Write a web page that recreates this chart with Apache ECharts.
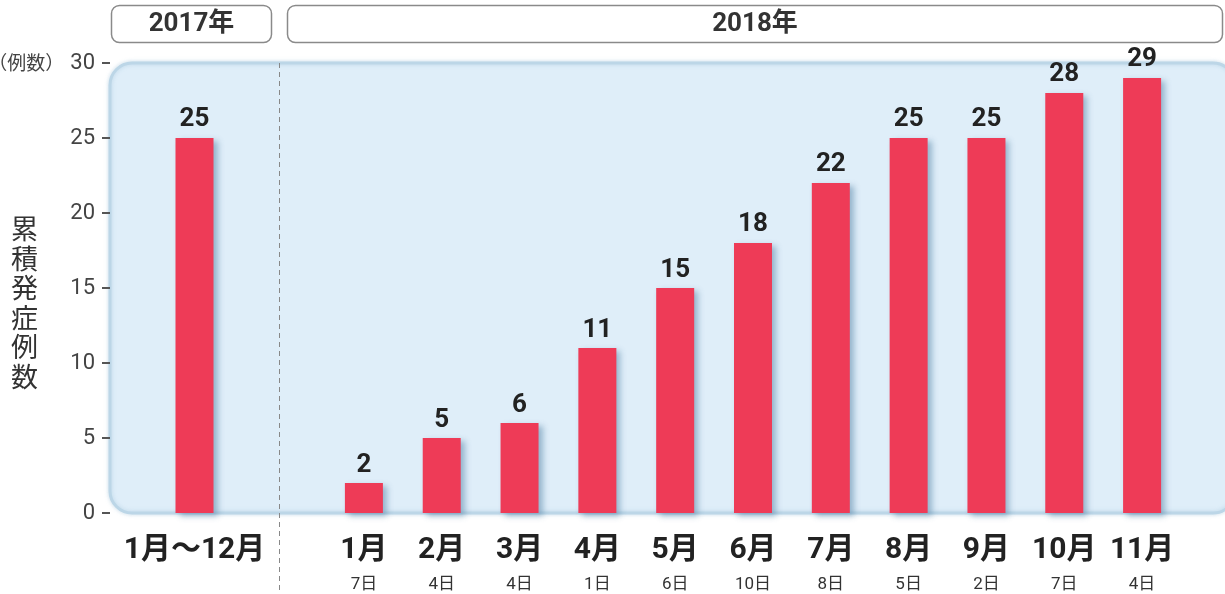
<!DOCTYPE html>
<html>
<head>
<meta charset="utf-8">
<script src="https://cdn.jsdelivr.net/npm/echarts@6/dist/echarts.min.js"></script>
<style>
  html, body { margin: 0; padding: 0; background: #fff; }
  #chart { width: 1225px; height: 594px; }
</style>
</head>
<body>
<div id="chart"></div>
<script>
// 2017年は通年、2018年は月別の累積発症例数
const cats2017 = ['1月〜12月'];
const vals2017 = [25];
const cats2018 = ['1月', '2月', '3月', '4月', '5月', '6月', '7月', '8月', '9月', '10月', '11月'];
const days2018 = ['7日', '4日', '4日', '1日', '6日', '10日', '8日', '5日', '2日', '7日', '4日'];
const vals2018 = [2, 5, 6, 11, 15, 18, 22, 25, 25, 28, 29];
const yTicks = { min: 0, max: 30, interval: 5 };
const yearLabels = ['2017年', '2018年'];

const FONT = 'Roboto, "Noto Sans CJK JP", sans-serif';
const BAR = '#ee3b57';

const barStyle = {
    color: BAR,
    shadowColor: 'rgba(60,110,150,0.45)',
    shadowBlur: 6,
    shadowOffsetX: 4,
    shadowOffsetY: 3
};
const valueLabel = {
    show: true,
    position: 'top',
    distance: 5,
    fontFamily: FONT,
    fontWeight: 'bold',
    fontSize: 26,
    color: '#222'
};
const catRich = {
    m: { fontFamily: FONT, fontWeight: 'bold', fontSize: 30, color: '#222', lineHeight: 38 },
    d: { fontFamily: FONT, fontSize: 17, color: '#333', lineHeight: 32 }
};

const chart = echarts.init(document.getElementById('chart'));

chart.setOption({
    animation: false,
    graphic: [
        {
            // 背景パネル
            type: 'rect',
            z: -10,
            shape: { x: 110, y: 63, width: 1125, height: 450, r: 22 },
            style: {
                fill: '#dfeef9',
                stroke: '#bcd6e7',
                lineWidth: 3,
                shadowColor: 'rgba(120,170,200,0.35)',
                shadowBlur: 4
            }
        },
        {
            type: 'line',
            z: 5,
            shape: { x1: 279.5, y1: 63, x2: 279.5, y2: 594 },
            style: { stroke: '#888', lineWidth: 1, lineDash: [5, 4] }
        },
        {
            type: 'rect',
            shape: { x: 111.5, y: 5.5, width: 160, height: 37, r: 8 },
            style: { fill: '#fff', stroke: '#8a8a8a', lineWidth: 1.5 },
            textContent: {
                style: { text: yearLabels[0], font: 'bold 26px ' + FONT, fill: '#333' }
            },
            textConfig: { position: 'inside' }
        },
        {
            type: 'rect',
            shape: { x: 287.5, y: 5.5, width: 935, height: 37, r: 8 },
            style: { fill: '#fff', stroke: '#8a8a8a', lineWidth: 1.5 },
            textContent: {
                style: { text: yearLabels[1], font: 'bold 26px ' + FONT, fill: '#333' }
            },
            textConfig: { position: 'inside' }
        }
    ],
    grid: [
        { left: 110, top: 63, width: 169, bottom: 81, outerBoundsMode: 'none' },
        { left: 325, top: 63, width: 856, bottom: 81, outerBoundsMode: 'none' }
    ],
    xAxis: [
        {
            type: 'category',
            gridIndex: 0,
            data: cats2017,
            axisLine: { show: false },
            axisTick: { show: false },
            axisLabel: {
                margin: 18,
                formatter: v => '{m|' + v + '}',
                rich: catRich
            }
        },
        {
            type: 'category',
            gridIndex: 1,
            data: cats2018,
            axisLine: { show: false },
            axisTick: { show: false },
            axisLabel: {
                margin: 18,
                interval: 0,
                formatter: (v, i) => '{m|' + v + '}\n{d|' + days2018[i] + '}',
                rich: catRich
            }
        }
    ],
    yAxis: [
        {
            type: 'value',
            gridIndex: 0,
            min: yTicks.min,
            max: yTicks.max,
            interval: yTicks.interval,
            // 先頭の空行で名前を少し下げる
            name: '\n累\n積\n発\n症\n例\n数',
            nameLocation: 'middle',
            nameRotate: 0,
            nameGap: 72,
            nameMoveOverlap: false,
            nameTextStyle: {
                fontFamily: '"Noto Sans CJK JP", sans-serif',
                fontSize: 27,
                lineHeight: 29.5,
                color: '#333'
            },
            splitLine: { show: false },
            axisLine: { show: false },
            axisTick: { show: true, length: 8, lineStyle: { color: '#555', width: 2 } },
            axisLabel: {
                margin: 15,
                fontFamily: FONT,
                fontSize: 22,
                color: '#444',
                formatter: v => v === yTicks.max ? '{u|（例数）}' + v : '' + v,
                rich: {
                    u: { fontFamily: '"Noto Sans CJK JP", sans-serif', fontSize: 19, color: '#444', padding: [0, 6, 0, 0] }
                }
            }
        },
        {
            type: 'value',
            gridIndex: 1,
            min: yTicks.min,
            max: yTicks.max,
            interval: yTicks.interval,
            show: false,
            splitLine: { show: false }
        }
    ],
    series: [
        {
            type: 'bar',
            xAxisIndex: 0,
            yAxisIndex: 0,
            data: vals2017,
            barWidth: 38,
            itemStyle: barStyle,
            label: valueLabel
        },
        {
            type: 'bar',
            xAxisIndex: 1,
            yAxisIndex: 1,
            data: vals2018,
            barWidth: 38,
            itemStyle: barStyle,
            label: valueLabel
        }
    ]
});
</script>
</body>
</html>
